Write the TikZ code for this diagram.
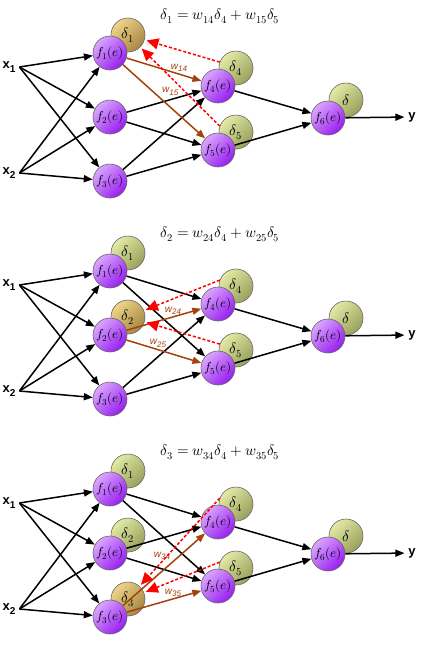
\documentclass[tikz,border=0pt]{standalone}
\usepackage{fontspec}
\usepackage{unicode-math}
\newfontfamily\arialfont{Liberation Sans}
\usetikzlibrary{arrows.meta,calc,positioning}
\definecolor{nnlilac}{RGB}{218,165,255}
\definecolor{nnpurple}{RGB}{150,30,238}
\definecolor{nnlime}{RGB}{226,234,166}
\definecolor{nngreen}{RGB}{152,160,92}
\definecolor{nnsand}{RGB}{238,212,136}
\definecolor{nntan}{RGB}{166,134,68}
\definecolor{nnbrown}{RGB}{163,66,13}
\newcommand{\xsub}[2]{#1\raisebox{-4pt}{\fontsize{10}{12}\selectfont #2}}
\newcommand{\wsub}[1]{w\raisebox{-2.5pt}{\fontsize{8}{10}\selectfont #1}}

\begin{document}
\begin{tikzpicture}[x=1pt,y=-1pt,
    neu/.style={circle,draw=black!60,line width=.6pt,minimum size=34pt,inner sep=0pt,
      top color=nnlilac,bottom color=nnpurple,shading angle=45,
      font=\fontsize{13}{15}\selectfont},
    dlt/.style={neu,top color=nnlime,bottom color=nngreen,shading angle=45,
      font=\fontsize{15}{17}\selectfont},
    dhi/.style={dlt,top color=nnsand,bottom color=nntan,shading angle=45},
    inp/.style={font=\arialfont\bfseries\fontsize{13}{15}\selectfont,inner sep=1pt,outer sep=3pt},
    eq/.style={font=\fontsize{15}{18}\selectfont},
    a/.style={-{Triangle[length=9pt,width=7pt]},line width=1.5pt},
    wa/.style={a,draw=nnbrown},
    back/.style={-{Triangle[length=12pt,width=11pt]},line width=1.5pt,draw=red,
      dash pattern=on 3pt off 2pt,shorten >=2pt},
    lab/.style={font=\arialfont\itshape\fontsize{10}{12}\selectfont,text=nnbrown,inner sep=1.5pt}]
  \useasboundingbox (0,0) rectangle (431,648);
  \foreach \k/\ia/\ib/\pa/\pb/\sa/\sb in {1/14/15/above/above right/.7/.45,
      2/24/25/above/above/.62/.42,3/34/35/above left/above/.6/.62} {
    \begin{scope}[yshift={-(\k-1)*218pt}]
      \node[eq] (eq-\k) at (220,16) {$\delta_{\k} = w_{\ia}\delta_4 + w_{\ib}\delta_5$};
      % inputs and output
      \node[inp] (x1-\k) at (9,67) {\xsub{x}{1}};
      \node[inp] (x2-\k) at (9,173) {\xsub{x}{2}};
      \node[inp] (y-\k) at (412,117) {y};
      % error terms (behind the neurons)
      \foreach \i in {1,...,\k} {
        \ifnum\i=\k \def\dst{dhi}\else\def\dst{dlt}\fi
        \node[\dst] (d\i-\k) at (128,{35+64*(\i-1)}) {$\delta_{\i}$};
      }
      \node[dlt] (d4-\k) at (236,68) {$\delta_4$};
      \node[dlt] (d5-\k) at (236,132) {$\delta_5$};
      \node[dlt] (d6-\k) at (346,100) {$\delta$};
      % neurons
      \node[neu] (f1-\k) at (110,53) {$f_1(e)$};
      \node[neu] (f2-\k) at (110,117) {$f_2(e)$};
      \node[neu] (f3-\k) at (110,181) {$f_3(e)$};
      \node[neu] (f4-\k) at (218,86) {$f_4(e)$};
      \node[neu] (f5-\k) at (218,150) {$f_5(e)$};
      \node[neu] (f6-\k) at (328,118) {$f_6(e)$};
      % forward connections
      \foreach \i in {1,2,3} {
        \draw[a] (x1-\k.east) -- (f\i-\k);
        \draw[a] (x2-\k.east) -- (f\i-\k);
        \ifnum\i=\k\else
          \draw[a] (f\i-\k) -- (f4-\k);
          \draw[a] (f\i-\k) -- (f5-\k);
        \fi
      }
      \draw[a] (f4-\k) -- (f6-\k);
      \draw[a] (f5-\k) -- (f6-\k);
      \draw[a] (f6-\k) -- (y-\k);
      % weights used for the error
      \draw[wa] (f\k-\k) -- node[lab,pos=\sa,\pa]{\wsub{\ia}} (f4-\k);
      \draw[wa] (f\k-\k) -- node[lab,pos=\sb,\pb]{\wsub{\ib}} (f5-\k);
      % error sent back
      \draw[back] (d4-\k.160) -- (d\k-\k);
      \draw[back] (d5-\k.160) -- (d\k-\k);
    \end{scope}
  }
\end{tikzpicture}
\end{document}
